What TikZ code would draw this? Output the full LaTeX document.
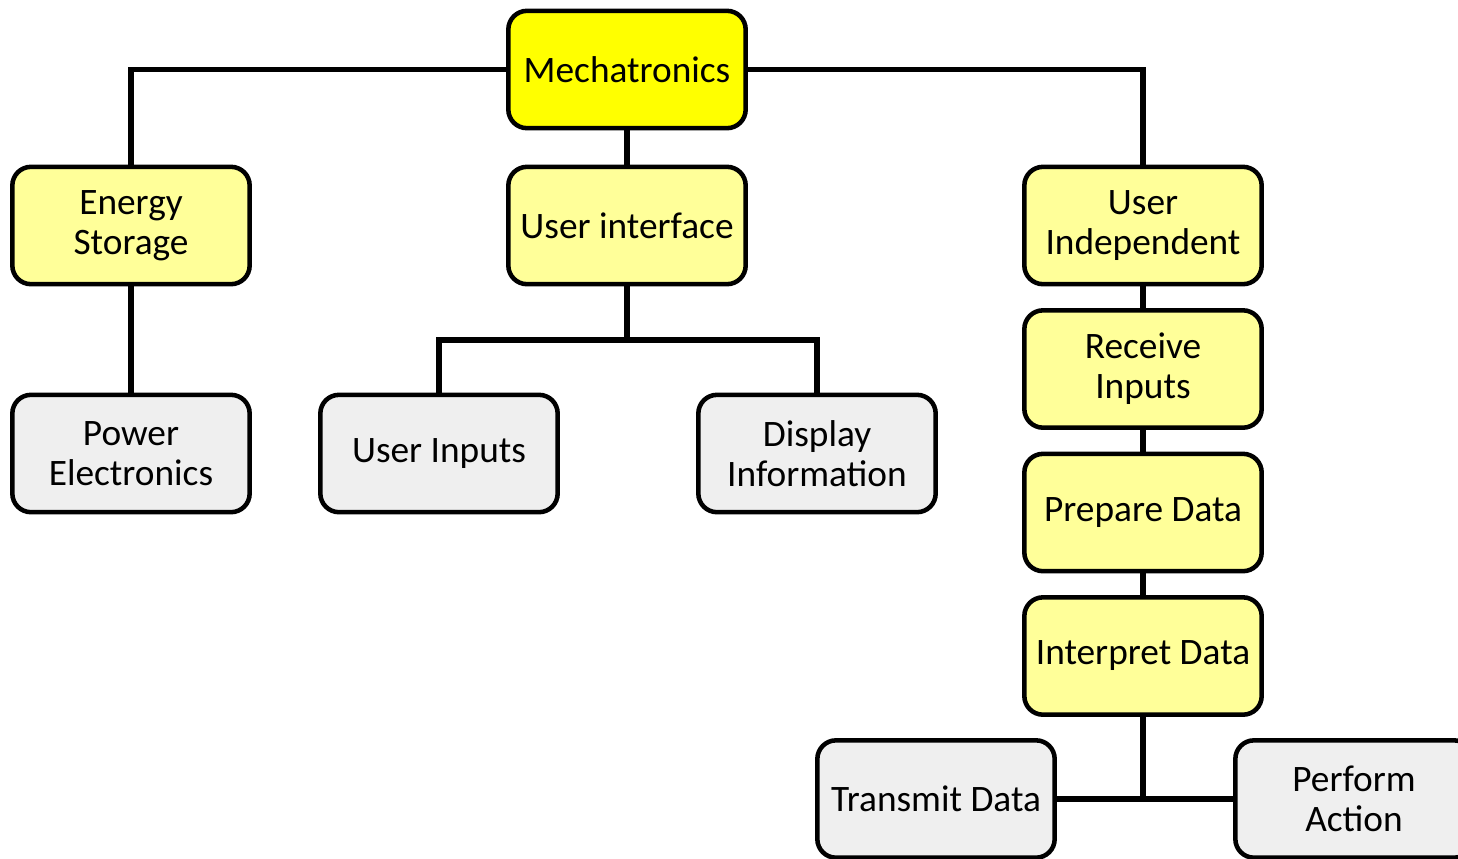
\documentclass[tikz,border=0pt]{standalone}
\usepackage{fontspec}
\setmainfont{Carlito}
\definecolor{topyellow}{HTML}{FFFF00}
\definecolor{lightyellow}{HTML}{FFFF99}
\definecolor{lightgrey}{HTML}{EFEFEF}
\begin{document}
\begin{tikzpicture}[x=0.75pt,y=-0.75pt,
  box/.style={draw=black, line width=3.4pt, rounded corners=14pt,
    minimum width=178pt, minimum height=88pt, inner sep=0pt, align=center,
    font=\fontsize{28}{30}\selectfont},
  ybox/.style={box, fill=lightyellow},
  gbox/.style={box, fill=lightgrey},
  link/.style={draw=black, line width=4pt}]
\useasboundingbox (0,0) rectangle (1458,858);
\clip (0,0) rectangle (1458,858);
\node[box, fill=topyellow] (mech) at (627,69.5) {Mechatronics};
\node[ybox] (energy) at (131,225.5) {Energy\\Storage};
\node[ybox] (ui) at (627,225.5) {User interface};
\node[ybox] (uind) at (1143,225.5) {User\\Independent};
\node[ybox] (recv) at (1143,369) {Receive\\Inputs};
\node[ybox] (prep) at (1143,512.5) {Prepare Data};
\node[ybox] (interp) at (1143,656) {Interpret Data};
\node[gbox] (power) at (131,453.5) {Power\\Electronics};
\node[gbox] (uinputs) at (439,453.5) {User Inputs};
\node[gbox] (display) at (817,453.5) {Display\\Information};
\node[gbox] (transmit) at (936,799) {Transmit Data};
\node[gbox] (perform) at (1354,799) {Perform\\Action};
\coordinate (uij) at (627,340);
\coordinate (tj) at (1143,799);
\draw[link] (mech.west) -| (energy.north);
\draw[link] (mech.east) -| (uind.north);
\draw[link] (mech.south) -- (ui.north);
\draw[link] (energy.south) -- (power.north);
\draw[link] (ui.south) -- (uij);
\draw[link] (uinputs.north) |- (uij) -| (display.north);
\draw[link] (uind.south) -- (recv.north);
\draw[link] (recv.south) -- (prep.north);
\draw[link] (prep.south) -- (interp.north);
\draw[link] (interp.south) -- (tj);
\draw[link] (transmit.east) -- (perform.west);
\end{tikzpicture}
\end{document}
